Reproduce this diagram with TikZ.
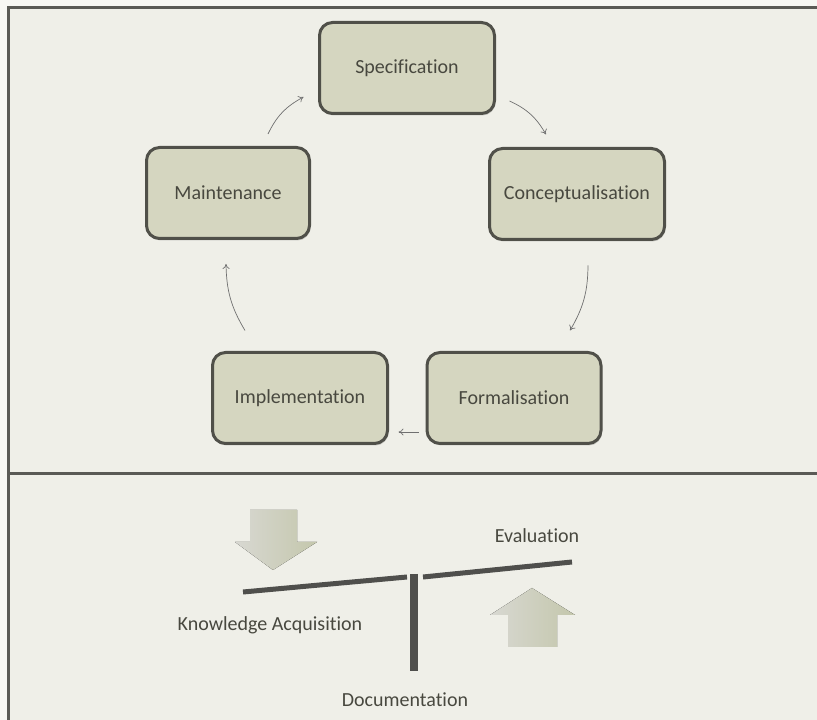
\documentclass[tikz,border=0pt]{standalone}
\usepackage{fontspec}
\setmainfont{Carlito}[Ligatures=NoCommon]
\usetikzlibrary{shadows,arrows.meta,bending}

\definecolor{pagebg}{HTML}{F7F7F3}
\definecolor{panelbg}{HTML}{EFEFE8}
\definecolor{framecol}{HTML}{5A5A55}
\definecolor{boxfill}{HTML}{D5D6C0}
\definecolor{boxline}{HTML}{505049}
\definecolor{txtcol}{HTML}{48483F}
\definecolor{flowcol}{HTML}{707070}
\definecolor{beamcol}{HTML}{4F4F4C}
\definecolor{blockA}{HTML}{D8D8D2}
\definecolor{blockB}{HTML}{C4C7AC}

\tikzset{
  phase/.style={draw=boxline, line width=3pt, fill=boxfill, rounded corners=13pt,
    minimum width=#1, minimum height=91pt, inner sep=0pt, text=txtcol,
    font=\fontsize{20}{24}\selectfont,
    drop shadow={shadow xshift=1pt, shadow yshift=-2pt, opacity=0.3, fill=black!60}},
  flow/.style={draw=flowcol, line width=0.7pt, -{To[length=5pt,width=7pt,flex]}},
  label/.style={text=txtcol, font=\fontsize{20}{24}\selectfont, inner sep=0pt},
  frameline/.style={draw=framecol, line width=3pt},
  beam/.style={draw=beamcol, line width=5pt},
  block/.style={left color=blockA, right color=blockB, draw=none},
}

\begin{document}
\begin{tikzpicture}[x=1pt,y=1pt]
  \useasboundingbox (0,0) rectangle (817,720);
  % page and panel backgrounds
  \fill[pagebg] (0,0) rectangle (817,720);
  \fill[panelbg] (8,0) rectangle (817,712);

  % frame and divider between the two panels
  \draw[frameline] (8,0) -- (8,712) -- (817,712);
  \draw[frameline] (8,246) -- (817,246);

  % the five phases of the life cycle
  \node[phase=175pt] (spec) at (407,652) {Specification};
  \node[phase=163pt] (mnt)  at (228,527) {Maintenance};
  \node[phase=175pt] (con)  at (577,526) {Conceptualisation};
  \node[phase=175pt] (imp)  at (300,322) {Implementation};
  \node[phase=174pt] (frm)  at (514,322) {Formalisation};

  % cycle arrows
  \draw[flow] ([shift={(40,12)}]mnt.north) to[bend left=18] ([shift={(-14.5,-29)}]spec.west);
  \draw[flow] ([shift={(13.5,-33)}]spec.east) to[bend left=18] ([shift={(-31,12.5)}]con.north);
  \draw[flow] ([shift={(11,-24.5)}]con.south) to[bend left=15] ([shift={(56,20.5)}]frm.north);
  \draw[flow] ([shift={(-7,-34)}]frm.west) -- ([shift={(9.5,-34)}]imp.east);
  \draw[flow] ([shift={(-55,20.5)}]imp.north) to[bend left=15] ([shift={(-2,-24)}]mnt.south);

  % supporting activities: balance beam with pressure arrows
  \fill[block] (250,210) -- (297,210) -- (297,178) -- (317,178) -- (273,150)
    -- (235,178) -- (250,178) -- cycle;
  \fill[block] (508,73) -- (557,73) -- (557,105) -- (575,105) -- (532,132)
    -- (490,105) -- (508,105) -- cycle;

  \coordinate (bl) at (243,128);
  \coordinate (bm1) at (407,143);
  \coordinate (bm2) at (423,143);
  \coordinate (br) at (572,158);
  \coordinate (pt) at (414,146);
  \coordinate (pb) at (414,49);
  \draw[beam] (bl) -- (bm1);
  \draw[beam] (bm2) -- (br);
  \draw[beamcol, line width=8pt] (pt) -- (pb);

  \node[label] (ka)  at (270,95)  {Knowledge Acquisition};
  \node[label] (ev)  at (537,184) {Evaluation};
  \node[label] (doc) at (405,20)  {Documentation};
\end{tikzpicture}
\end{document}
